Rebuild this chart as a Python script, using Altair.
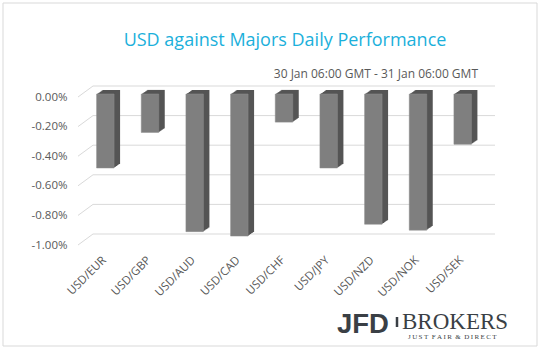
import altair as alt
import pandas as pd

pairs = ["USD/EUR", "USD/GBP", "USD/AUD", "USD/CAD", "USD/CHF",
         "USD/JPY", "USD/NZD", "USD/NOK", "USD/SEK"]
changes = [-0.50, -0.26, -0.93, -0.96, -0.19, -0.50, -0.88, -0.92, -0.34]
ticks = [0.0, -0.2, -0.4, -0.6, -0.8, -1.0]

title_text = "USD against Majors Daily Performance"
subtitle_text = "30 Jan 06:00 GMT - 31 Jan 06:00 GMT"

df = pd.DataFrame({"pair": pairs, "chg": changes})
tdf = pd.DataFrame({"v": ticks})

W, H = 402, 148
FONT = "Open Sans"

xenc = alt.X("pair:N", sort=pairs, title=None,
             scale=alt.Scale(paddingInner=0, paddingOuter=0),
             axis=alt.Axis(labelAngle=315, labelFontSize=11.5, labelColor="#595959",
                           labelFont=FONT, domain=False, ticks=False, labelPadding=9,
                           labelOffset=-5))
yscale = alt.Scale(domain=[-1.0, 0.0], nice=False, zero=False)
yaxis = alt.Axis(values=ticks, grid=False, domain=False, ticks=False,
                 labelOverlap=False, labelBound=False, labelFlush=False,
                 labelPadding=16, labelFontSize=11.5, labelColor="#595959",
                 labelFont=FONT,
                 labelExpr="replace(format(datum.value, '.2f'), '\u2212', '-') + '%'")
yenc = alt.Y("chg:Q", scale=yscale, title=None, axis=yaxis)

# border frame
frame = alt.Chart(pd.DataFrame({"a": [0]})).mark_rect(
    fill=None, stroke="#D9D9D9", strokeWidth=1
).encode(x=alt.value(-80), x2=alt.value(W + 52), y=alt.value(-94), y2=alt.value(H + 101))

# back-wall gridlines
grid = alt.Chart(tdf).mark_rule(color="#D9D9D9", strokeWidth=1, yOffset=-11).encode(
    y=alt.Y("v:Q", scale=yscale, title=None, axis=yaxis), x=alt.value(10), x2=alt.value(W + 10))
diag = alt.Chart(tdf).mark_rule(color="#D9D9D9", strokeWidth=1, y2Offset=-11).encode(
    y=alt.Y("v:Q", scale=yscale, title=None, axis=yaxis), y2="v:Q",
    x=alt.value(-5), x2=alt.value(10))

layers = [frame, grid, diag]

# extruded 3D depth (side + top faces)
for i in range(6, 0, -1):
    dy = -3 - i * 0.68
    layers.append(
        alt.Chart(df).mark_bar(size=17.5, color="#555555", xOffset=i,
                               yOffset=dy, y2Offset=dy).encode(
            x=xenc, y=yenc, y2=alt.datum(0))
    )

front = alt.Chart(df).mark_bar(size=17.5, color="#7F7F7F", yOffset=-3, y2Offset=-3,
                               stroke="#8C8C8C", strokeWidth=0.5).encode(
    x=xenc, y=yenc, y2=alt.datum(0))
layers.append(front)

one = pd.DataFrame({"a": [0]})
title = alt.Chart(one).mark_text(text=title_text, font=FONT, fontSize=18,
                                 color="#1BB0DB", align="center", baseline="alphabetic").encode(
    x=alt.value(202), y=alt.value(-51))
subtitle = alt.Chart(one).mark_text(text=subtitle_text, font=FONT, fontSize=12,
                                    color="#595959", align="right", baseline="alphabetic").encode(
    x=alt.value(395), y=alt.value(-19))
jfd = alt.Chart(one).mark_text(text="JFD", font="Liberation Sans", fontWeight="bold",
                               fontSize=27.5, color="#3A3F45", align="left",
                               baseline="alphabetic").encode(x=alt.value(254), y=alt.value(236))
sep = alt.Chart(one).mark_rule(color="#3A3F45", strokeWidth=2.5).encode(
    x=alt.value(314), y=alt.value(220), y2=alt.value(230))
brokers = alt.Chart(one).mark_text(text="BROKERS", font="Liberation Serif", fontSize=23,
                                   color="#3A3F45", align="left",
                                   baseline="alphabetic").encode(x=alt.value(319), y=alt.value(232))
tag_text = "\u00a0".join(["\u2009".join(w) for w in ["JUST", "FAIR", "&", "DIRECT"]]).replace("\u00a0", "\u00a0\u00a0")
tag = alt.Chart(one).mark_text(text=tag_text, font="Liberation Serif",
                               fontSize=7, color="#3A3F45", align="left",
                               baseline="alphabetic").encode(x=alt.value(325), y=alt.value(242))

layers += [title, subtitle, jfd, sep, brokers, tag]

chart = alt.layer(*layers).properties(
    width=W, height=H,
    autosize=alt.AutoSizeParams(type="none"),
    padding={"left": 83, "top": 97, "right": 53, "bottom": 106},
    background="white",
).configure_view(stroke=None)

chart.save("out.html", embed_options={"renderer": "svg", "actions": False})
